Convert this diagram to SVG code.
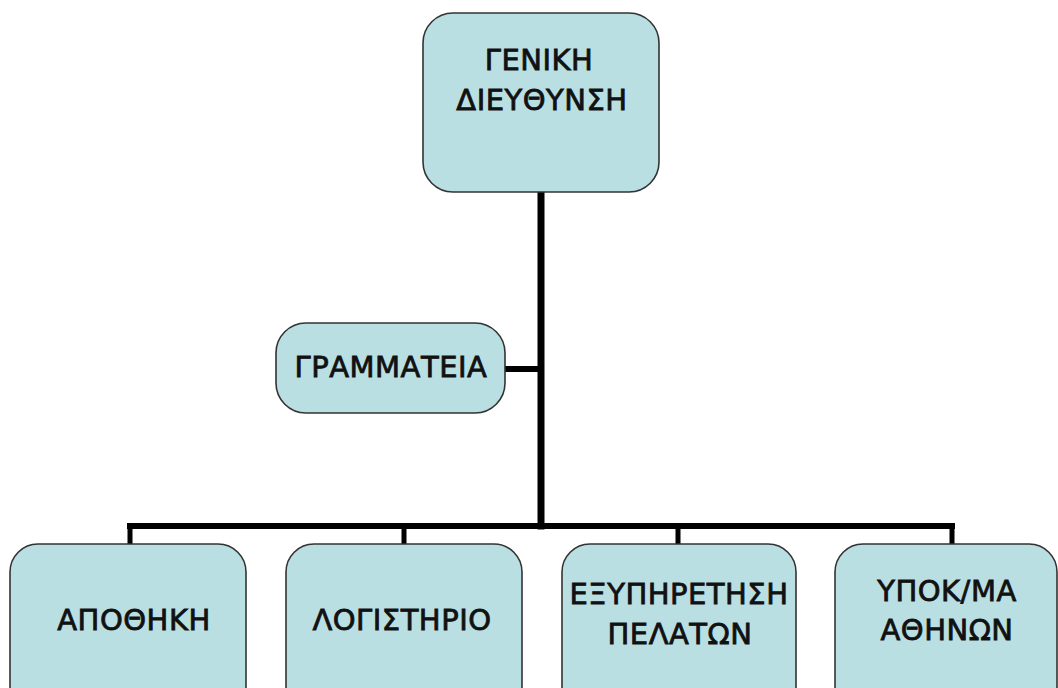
<svg xmlns="http://www.w3.org/2000/svg" width="1058" height="688" viewBox="0 0 1058 688">
<style>
.box{fill:#b9dfe2;stroke:#333;stroke-width:1.6}
.t{font-family:"DejaVu Sans",sans-serif;font-size:29px;fill:#111;stroke:#111;stroke-width:0.8;text-anchor:middle;letter-spacing:0.5px}
.c{stroke:#000;fill:none;stroke-linecap:square}
</style>
<rect width="1058" height="688" fill="#fff"/>
<g id="connectors">
<path class="c" d="M541 193V526" stroke-width="7"/>
<path class="c" d="M507 369H538" stroke-width="6"/>
<path class="c" d="M130 526H952" stroke-width="6"/>
<path class="c" d="M130 526V543M404 526V543M678 526V543M952 526V543" stroke-width="5"/>
</g>
<g id="n-geniki">
<rect class="box" x="423" y="13" width="236" height="179" rx="30"/>
<text class="t" x="539" y="70">ΓΕΝΙΚΗ</text>
<text class="t" x="542" y="110">ΔΙΕΥΘΥΝΣΗ</text>
</g>
<g id="n-grammateia">
<rect class="box" x="276" y="323" width="229" height="90" rx="30"/>
<text class="t" x="391" y="377">ΓΡΑΜΜΑΤΕΙΑ</text>
</g>
<g id="n-apothiki">
<rect class="box" x="10" y="544" width="236" height="170" rx="28"/>
<text class="t" x="134" y="630">ΑΠΟΘΗΚΗ</text>
</g>
<g id="n-logistirio">
<rect class="box" x="286" y="544" width="236" height="170" rx="28"/>
<text class="t" x="402" y="630">ΛΟΓΙΣΤΗΡΙΟ</text>
</g>
<g id="n-exypiretisi">
<rect class="box" x="562" y="544" width="234" height="170" rx="28"/>
<text class="t" x="679" y="604">ΕΞΥΠΗΡΕΤΗΣΗ</text>
<text class="t" x="680" y="644">ΠΕΛΑΤΩΝ</text>
</g>
<g id="n-ypokatastima">
<rect class="box" x="835" y="544" width="222" height="170" rx="28"/>
<text class="t" x="947" y="601">ΥΠΟΚ/ΜΑ</text>
<text class="t" x="947" y="640">ΑΘΗΝΩΝ</text>
</g>
</svg>
